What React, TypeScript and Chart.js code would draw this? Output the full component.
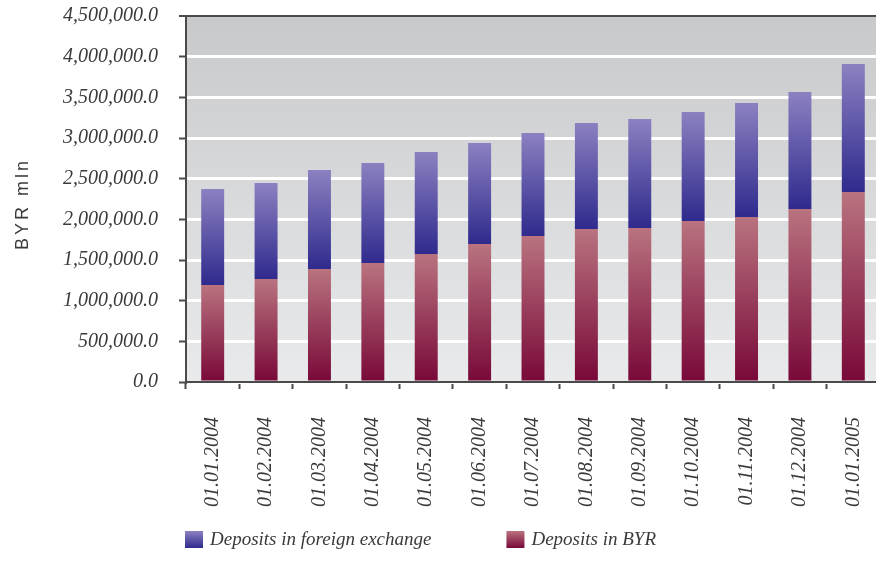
import React, { useEffect, useRef } from 'react';
import { Chart, registerables } from 'chart.js';

Chart.register(...registerables);

const categories = [
  '01.01.2004', '01.02.2004', '01.03.2004', '01.04.2004', '01.05.2004', '01.06.2004',
  '01.07.2004', '01.08.2004', '01.09.2004', '01.10.2004', '01.11.2004', '01.12.2004', '01.01.2005',
];
const depositsBYR = [
  1193000, 1266000, 1389000, 1463000, 1574000, 1697000,
  1795000, 1881000, 1894000, 1980000, 2029000, 2127000, 2336000,
];
const depositsForeign = [
  1180000, 1181000, 1218000, 1230000, 1254000, 1242000,
  1267000, 1304000, 1340000, 1340000, 1401000, 1439000, 1574000,
];
const yMin = 0;
const yMax = 4500000;
const yStep = 500000;
const seriesNames = ['Deposits in BYR', 'Deposits in foreign exchange'];
const axisTitle = 'BYR mln';

const gradBYR = ['#b9737f', '#780838'];
const gradForeign = ['#8b81c1', '#2f2a8d'];

const TEXT = '#3a3a3a';
const SERIF = '"Liberation Serif", "Times New Roman", serif';

function segmentGradient(c: any, stops: string[], fallback: string) {
  const chart = c.chart;
  if (!chart.chartArea || c.type !== 'data') return fallback;
  const y = chart.scales.y;
  const i = c.dataIndex;
  const di = c.datasetIndex;
  let base = 0;
  for (let k = 0; k < di; k++) base += chart.data.datasets[k].data[i] as number;
  const top = base + (chart.data.datasets[di].data[i] as number);
  const g = chart.ctx.createLinearGradient(0, y.getPixelForValue(top), 0, y.getPixelForValue(base));
  g.addColorStop(0, stops[0]);
  g.addColorStop(1, stops[1]);
  return g;
}

const bgPlugin = {
  id: 'plotBg',
  beforeDraw(chart: any) {
    const { ctx, chartArea: a } = chart;
    if (!a) return;
    ctx.save();
    const g = ctx.createLinearGradient(0, a.top, 0, a.bottom);
    g.addColorStop(0, '#c8c9cb');
    g.addColorStop(1, '#e9eaeb');
    ctx.fillStyle = g;
    ctx.fillRect(a.left, a.top, a.right - a.left, a.bottom - a.top);
    ctx.restore();
  },
};

const titleLegendPlugin = {
  id: 'titleLegend',
  afterDraw(chart: any) {
    const { ctx, chartArea: a } = chart;
    if (!a) return;
    ctx.save();
    // y axis title
    ctx.translate(23, (a.top + a.bottom) / 2 + 5);
    ctx.rotate(-Math.PI / 2);
    ctx.font = '18px "Liberation Sans", Arial, sans-serif';
    (ctx as any).letterSpacing = '3px';
    ctx.fillStyle = TEXT;
    ctx.textAlign = 'center';
    ctx.textBaseline = 'middle';
    ctx.fillText(axisTitle, 0, 0);
    ctx.restore();

    // legend
    ctx.save();
    ctx.font = 'italic 19px ' + SERIF;
    ctx.textBaseline = 'middle';
    const items = [
      { name: seriesNames[1], stops: gradForeign },
      { name: seriesNames[0], stops: gradBYR },
    ];
    let x = a.left - 1;
    const yMid = chart.height - 25.5;
    const box = 18;
    for (const it of items) {
      const g = ctx.createLinearGradient(0, yMid - 8.5, 0, yMid + 8.5);
      g.addColorStop(0, it.stops[0]);
      g.addColorStop(1, it.stops[1]);
      ctx.fillStyle = g;
      ctx.fillRect(x, yMid - 8.5, box, 17);
      ctx.fillStyle = TEXT;
      ctx.fillText(it.name, x + box + 7, yMid);
      x += box + 7 + ctx.measureText(it.name).width + 75;
    }
    ctx.restore();
  },
};

export default function App() {
  const ref = useRef<HTMLCanvasElement>(null);
  useEffect(() => {
    if (!ref.current) return;
    const chart = new Chart(ref.current, {
      type: 'bar',
      data: {
        labels: categories,
        datasets: [
          {
            label: seriesNames[0],
            data: depositsBYR,
            backgroundColor: (c: any) => segmentGradient(c, gradBYR, gradBYR[1]),
            barPercentage: 0.43,
            categoryPercentage: 1,
            borderWidth: 0,
          },
          {
            label: seriesNames[1],
            data: depositsForeign,
            backgroundColor: (c: any) => segmentGradient(c, gradForeign, gradForeign[1]),
            barPercentage: 0.43,
            categoryPercentage: 1,
            borderWidth: 0,
          },
        ],
      },
      options: {
        animation: false,
        responsive: false,
        maintainAspectRatio: false,
        layout: { padding: { top: 16, right: 0, bottom: 0, left: 0 } },
        plugins: {
          legend: { display: false },
          tooltip: { enabled: false },
        },
        scales: {
          x: {
            stacked: true,
            afterFit: (s: any) => {
              s.height = 183;
              s.paddingLeft = 0;
              s.paddingRight = 0;
            },
            border: { display: true, color: '#4a4a4a', width: 2 },
            grid: {
              display: true,
              offset: true,
              drawOnChartArea: false,
              drawTicks: true,
              tickLength: 7,
              tickColor: '#4a4a4a',
              tickWidth: 2,
            },
            ticks: {
              minRotation: 90,
              maxRotation: 90,
              autoSkip: false,
              padding: 28,
              color: TEXT,
              font: { family: SERIF, size: 20, style: 'italic' },
            },
          },
          y: {
            stacked: true,
            min: yMin,
            max: yMax,
            afterFit: (s: any) => {
              s.width = 186;
              s.paddingTop = 0;
              s.paddingBottom = 0;
            },
            border: { display: true, color: '#4a4a4a', width: 2 },
            grid: {
              color: (c: any) => (c.tick && c.tick.value === yMax ? '#4a4a4a' : '#ffffff'),
              lineWidth: (c: any) => (c.tick && c.tick.value === yMax ? 2 : 3),
              tickLength: 7,
              tickColor: '#4a4a4a',
              tickWidth: 2,
            },
            ticks: {
              stepSize: yStep,
              padding: 21,
              color: TEXT,
              font: { family: SERIF, size: 20, style: 'italic' },
              callback: (v: any) =>
                Number(v).toLocaleString('en-US', { minimumFractionDigits: 1, maximumFractionDigits: 1 }),
            },
          },
        },
      },
      plugins: [bgPlugin, titleLegendPlugin],
    });
    return () => chart.destroy();
  }, []);
  return (
    <div style={{ position: 'fixed', left: 0, top: 0, width: 876, height: 565, overflow: 'hidden', background: '#fff' }}>
      <canvas ref={ref} width={880} height={565} style={{ display: 'block', width: 880, height: 565 }} />
    </div>
  );
}
